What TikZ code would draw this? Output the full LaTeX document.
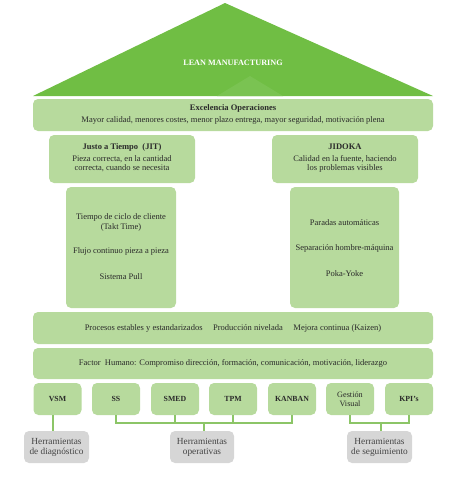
\documentclass[tikz,border=0pt]{standalone}
\usepackage{fontspec}
\setmainfont{Liberation Serif}
\definecolor{roofg}{HTML}{70BE44}
\definecolor{roofl}{HTML}{7AC352}
\definecolor{boxg}{HTML}{B7DA9D}
\definecolor{lineg}{HTML}{8CC567}
\definecolor{grayb}{HTML}{D6D6D6}
\definecolor{txt}{HTML}{2A2A2A}
\definecolor{gtxt}{HTML}{444444}
\tikzset{
  gbox/.style={fill=boxg, draw=none, rounded corners=5pt, inner sep=0pt},
  graybox/.style={fill=grayb, draw=none, rounded corners=5pt, inner sep=0pt, text=gtxt, align=center, font=\fontsize{9.3}{10}\selectfont},
  lbl/.style={text=txt, align=center, font=\fontsize{8.5}{9.3}\selectfont, inner sep=0pt},
  ttl/.style={text=txt, align=center, font=\fontsize{8.5}{9.3}\selectfont\bfseries, inner sep=0pt},
  tool/.style={gbox, minimum width=48pt, minimum height=32pt, text=txt, align=center, font=\fontsize{7.8}{9}\selectfont\bfseries},
  conn/.style={draw=lineg, line width=1.2pt}
}
\begin{document}
\begin{tikzpicture}[x=1pt,y=-1pt]
\useasboundingbox (0,0) rectangle (474,480);
% roof
\fill[roofg] (33,96) -- (225,3) -- (433,96) -- cycle;
\fill[roofl] (217,96) -- (250,76) -- (283,96) -- cycle;
\node[text=white, font=\fontsize{8.2}{9}\selectfont\bfseries, inner sep=0pt] (lean) at (233,63) {LEAN MANUFACTURING};
% excellence
\node[gbox, minimum width=400pt, minimum height=32pt] (exc) at (233,115) {};
\node[ttl] (exct) at (233,108) {Excelencia Operaciones};
\node[lbl] (excs) at (233,120.5) {Mayor calidad, menores costes, menor plazo entrega, mayor seguridad, motivación plena};
% JIT / JIDOKA heads
\node[gbox, minimum width=146pt, minimum height=48pt] (jit) at (122,159) {};
\node[ttl] (jitt) at (122,147) {Justo a Tiempo \ (JIT)};
\node[lbl] (jits) at (122,164) {Pieza correcta, en la cantidad\\correcta, cuando se necesita};
\node[gbox, minimum width=146pt, minimum height=48pt] (jid) at (345,159) {};
\node[ttl] (jidt) at (345,147) {JIDOKA};
\node[lbl] (jids) at (345,164) {Calidad en la fuente, haciendo\\los problemas visibles};
% pillars
\node[gbox, minimum width=110pt, minimum height=121pt] (pjit) at (121,247.5) {};
\node[lbl] (p1) at (121,222.5) {Tiempo de ciclo de cliente\\(Takt Time)};
\node[lbl] (p2) at (121,251) {Flujo continuo pieza a pieza};
\node[lbl] (p3) at (121,277) {Sistema Pull};
\node[gbox, minimum width=109pt, minimum height=121pt] (pjid) at (344.5,247.5) {};
\node[lbl] (q1) at (344.5,223) {Paradas automáticas};
\node[lbl] (q2) at (344.5,248) {Separación hombre-máquina};
\node[lbl] (q3) at (344.5,274) {Poka-Yoke};
% base rows
\node[gbox, minimum width=400pt, minimum height=32pt] (proc) at (233,328) {};
\node[lbl] (proct) at (233,328) {Procesos estables y estandarizados \quad Producción nivelada \quad Mejora continua (Kaizen)};
\node[gbox, minimum width=400pt, minimum height=31pt] (fact) at (233,363.5) {};
\node[lbl] (factt) at (233,363.5) {Factor \ Humano: Compromiso dirección, formación, comunicación, motivación, liderazgo};
% tools
\node[tool] (vsm) at (57.5,399) {VSM};
\node[tool] (ss) at (116,399) {SS};
\node[tool] (smed) at (175,399) {SMED};
\node[tool] (tpm) at (233,399) {TPM};
\node[tool] (kan) at (292,399) {KANBAN};
\node[tool, font=\fontsize{8.2}{9}\selectfont] (gv) at (350,399) {Gestión\\Visual};
\node[tool] (kpi) at (409,399) {KPI's};
% gray boxes
\node[graybox, minimum width=65pt, minimum height=32pt] (diag) at (56.5,447) {Herramientas\\de diagnóstico};
\node[graybox, minimum width=64pt, minimum height=32pt] (oper) at (202,447) {Herramientas\\operativas};
\node[graybox, minimum width=65pt, minimum height=32pt] (segu) at (379.5,447) {Herramientas\\de seguimiento};
% connectors
\coordinate (oj) at (204,423);
\coordinate (sj) at (381,423);
\draw[conn] (vsm.south -| 53,0) -- (diag.north -| 53,0);
\draw[conn] (ss.south) |- (oj);
\draw[conn] (kan.south) |- (oj);
\draw[conn] (smed.south) -- (smed.south |- oj);
\draw[conn] (tpm.south) -- (tpm.south |- oj);
\draw[conn] (oj) -- (oper.north -| oj);
\draw[conn] (gv.south) |- (sj);
\draw[conn] (kpi.south) |- (sj);
\draw[conn] (sj) -- (segu.north -| sj);
\end{tikzpicture}
\end{document}
